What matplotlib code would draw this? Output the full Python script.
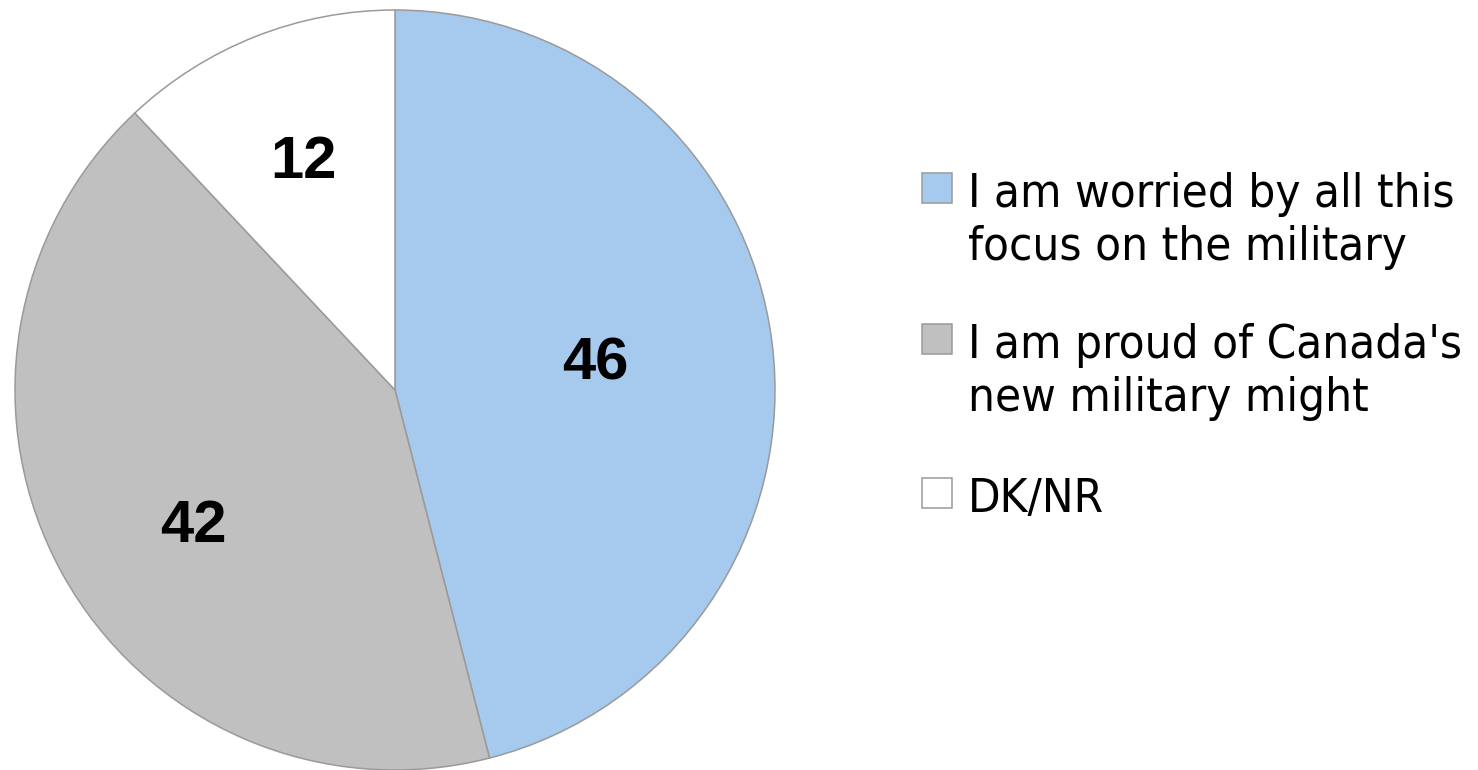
import matplotlib
matplotlib.use("Agg")
import matplotlib.pyplot as plt
from matplotlib.patches import Rectangle

# opinion on canada's military focus (percent)
labels = ["I am worried by all this\nfocus on the military",
          "I am proud of Canada's\nnew military might",
          "DK/NR"]
values = [46, 42, 12]
colors = ["#A6C9EE", "#C0C0C0", "#FFFFFF"]

W, H = 1478, 770
fig = plt.figure(figsize=(W / 100, H / 100), dpi=100)
ax = fig.add_axes([0, 0, 1, 1])

wedges, _ = ax.pie(values, colors=colors, startangle=90, counterclock=False,
                   center=(395, H - 390), radius=380,
                   wedgeprops=dict(edgecolor="#9A9A9A", linewidth=1.1),
                   frame=True)
ax.set_xlim(0, W)
ax.set_ylim(0, H)
ax.axis("off")

# value labels inside the slices (pixel positions from top-left)
label_pos = [(595, 364), (193, 527), (303, 163)]
for v, (x, y) in zip(values, label_pos):
    ax.text(x, H - y, str(v), ha="center", va="center", fontsize=43,
            fontweight="bold", family="Liberation Sans")

# legend drawn by hand: square + wrapped text
sq = 30
first_base = [207, 358, 512]
line_gap = 53
for lab, col, base in zip(labels, colors, first_base):
    ax.add_patch(Rectangle((922, H - (base - 19) - sq / 2), sq, sq,
                           facecolor=col, edgecolor="#9A9A9A", linewidth=1.1))
    for j, line in enumerate(lab.split("\n")):
        ax.text(968, H - (base + j * line_gap), line, ha="left", va="baseline",
                fontsize=34, family="DejaVu Sans", stretch="condensed")

fig.savefig("out.png", dpi=100)
